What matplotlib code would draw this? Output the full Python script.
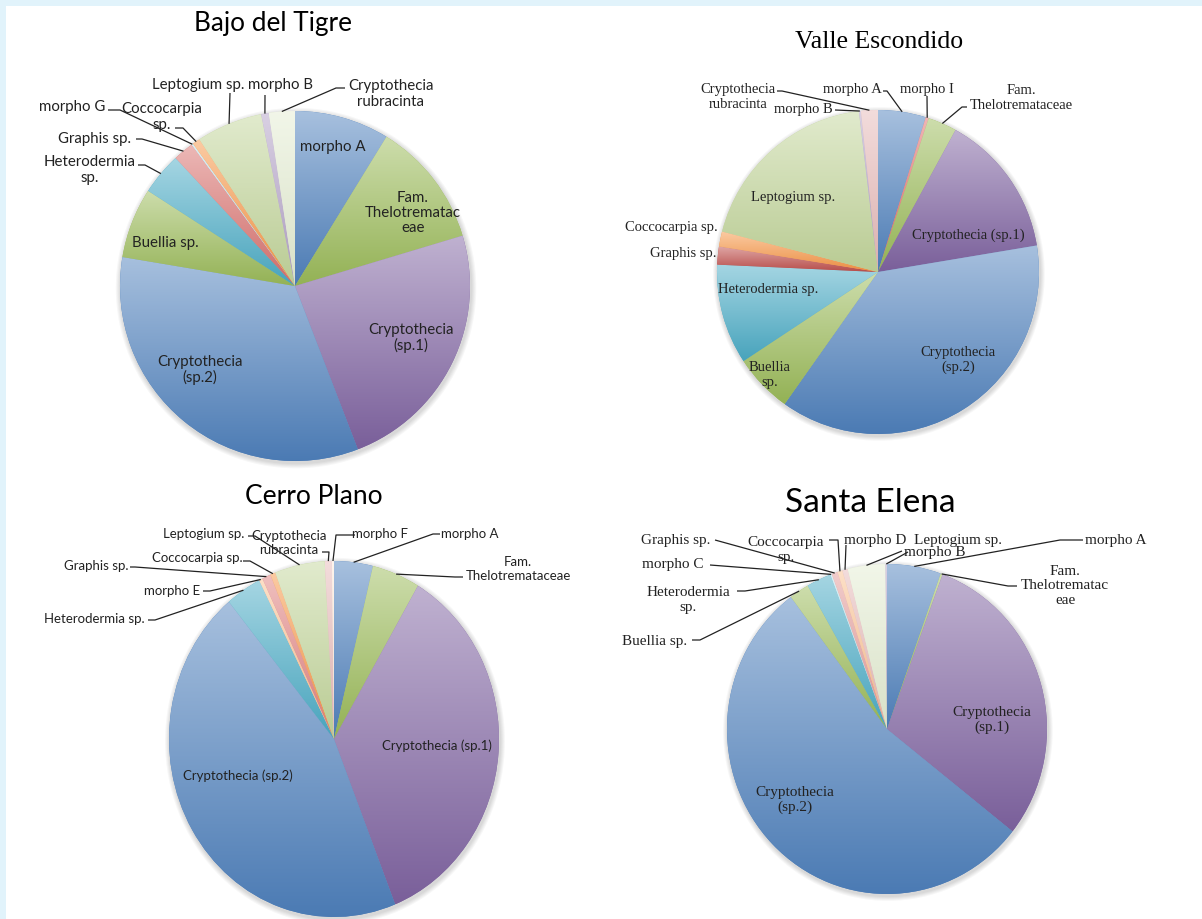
import numpy as np
import matplotlib.pyplot as plt
from matplotlib.colors import to_rgb
from matplotlib.patches import Rectangle, Ellipse

W, H = 1202, 920

# ---- data: share of each taxon (%) per site ----
bajo_names = ['morpho A', 'Fam. Thelotremataceae', 'Cryptothecia (sp.1)', 'Cryptothecia (sp.2)',
              'Buellia sp.', 'Heterodermia sp.', 'Graphis sp.', 'morpho G', 'Coccocarpia sp.',
              'Leptogium sp.', 'morpho B', 'Cryptothecia rubracinta']
bajo_vals = [8.75, 11.6, 23.8, 33.5, 6.5, 3.9, 1.9, 0.15, 0.7, 6.1, 0.7, 2.4]

valle_names = ['morpho A', 'morpho I', 'Fam. Thelotremataceae', 'Cryptothecia (sp.1)',
               'Cryptothecia (sp.2)', 'Buellia sp.', 'Heterodermia sp.', 'Graphis sp.',
               'Coccocarpia sp.', 'Leptogium sp.', 'morpho B', 'Cryptothecia rubracinta']
valle_vals = [4.8, 0.3, 2.9, 14.4, 37.5, 5.9, 10.0, 1.8, 1.5, 19.1, 0.2, 1.7]

cerro_names = ['morpho A', 'Fam. Thelotremataceae', 'Cryptothecia (sp.1)', 'Cryptothecia (sp.2)',
               'Heterodermia sp.', 'morpho E', 'Graphis sp.', 'Coccocarpia sp.', 'Leptogium sp.',
               'Cryptothecia rubracinta', 'morpho F']
cerro_vals = [3.8, 4.7, 35.5, 45.1, 3.5, 0.35, 0.85, 0.5, 4.9, 0.7, 0.2]

santa_names = ['morpho A', 'Fam. Thelotremataceae', 'Cryptothecia (sp.1)', 'Cryptothecia (sp.2)',
               'Buellia sp.', 'Heterodermia sp.', 'morpho C', 'Graphis sp.', 'Coccocarpia sp.',
               'morpho D', 'Leptogium sp.', 'morpho B']
santa_vals = [5.45, 0.2, 30.0, 54.1, 2.0, 2.5, 0.15, 0.6, 0.5, 0.55, 3.8, 0.15]

# ---- colours (Office 2007 palette) ----
BLUE, GREEN, PURPLE = '#4F81BD', '#9BBB59', '#8064A2'
AQUA, RED, ORANGE = '#4BACC6', '#C0504D', '#F79646'
LGREEN, LPURPLE, PINK = '#C3D69B', '#B3A2C7', '#E6B9B8'
CREAM, LBLUE, PEACH = '#E4EDD2', '#B7DEE8', '#FAC090'

bajo_cols = [BLUE, GREEN, PURPLE, BLUE, GREEN, AQUA, '#D9716E', LBLUE, ORANGE, LGREEN, LPURPLE, CREAM]
valle_cols = [BLUE, '#E06C6A', GREEN, PURPLE, BLUE, GREEN, AQUA, RED, ORANGE, LGREEN, LPURPLE, PINK]
cerro_cols = [BLUE, GREEN, PURPLE, BLUE, AQUA, PEACH, '#E0807E', ORANGE, LGREEN, PINK, '#FDEADA']
santa_cols = [BLUE, GREEN, PURPLE, BLUE, GREEN, AQUA, LBLUE, '#E39A98', PEACH, PINK, CREAM, LPURPLE]

SANS = ['Lato', 'DejaVu Sans']
SERIF = ['Liberation Serif', 'DejaVu Serif']
INK = '#222222'

fig = plt.figure(figsize=(W / 100, H / 100), dpi=100)
fig.patch.set_facecolor('#E1F3FB')
fig.add_artist(Rectangle((6 / W, 0), (W - 6) / W, (H - 7) / H, transform=fig.transFigure,
                         facecolor='white', edgecolor='none', zorder=-5))

# overlay in pixel units for titles, labels and leader lines
ov = fig.add_axes([0, 0, 1, 1], zorder=5)
ov.set_xlim(0, W)
ov.set_ylim(H, 0)
ov.axis('off')
ov.patch.set_alpha(0)


def shade(ax, w, color):
    # Excel-style vertical gradient inside a wedge: light at top, full colour at bottom
    th = np.radians(np.linspace(w.theta1, w.theta2, 80))
    xs = np.r_[0, np.cos(th)] * w.r
    ys = np.r_[0, np.sin(th)] * w.r
    c = np.array(to_rgb(color))
    t = np.linspace(0, 1, 200)[:, None]
    top = c + (1 - c) * 0.5
    bot = c * 0.95
    grad = (top * (1 - t) + bot * t)[:, None, :]
    im = ax.imshow(grad, extent=(xs.min() - 1e-3, xs.max() + 1e-3, ys.min(), ys.max()),
                   origin='upper', aspect='auto', interpolation='bilinear', zorder=2)
    im.set_clip_path(w)


def draw_pie(vals, cols, cx, cy, rx, ry):
    ax = fig.add_axes([(cx - rx) / W, 1 - (cy + ry) / H, 2 * rx / W, 2 * ry / H], zorder=1)
    # soft drop shadow under the pie
    for k in range(5):
        ax.add_patch(Ellipse((0.006, -0.012), 2 + 0.012 * (k + 1), 2 + 0.012 * (k + 1),
                             facecolor='black', edgecolor='none', alpha=0.03, zorder=0,
                             clip_on=False))
    wedges, _ = ax.pie(vals, colors=cols, startangle=90, counterclock=False,
                       radius=1, wedgeprops=dict(linewidth=0))
    for w, c in zip(wedges, cols):
        shade(ax, w, c)
    ax.set_aspect('auto')
    ax.set_xlim(-1, 1)
    ax.set_ylim(-1, 1)
    ax.axis('off')
    return ax, wedges


def edge_px(ax, w):
    a = np.radians((w.theta1 + w.theta2) / 2)
    p = ax.transData.transform((np.cos(a), np.sin(a)))
    return ov.transData.inverted().transform(p)


def put_labels(ax, wedges, layout, family, size):
    for i, text, x, y, via in layout:
        ov.text(x, y, text, ha='center', va='center', family=family, fontsize=size,
                color=INK, linespacing=1.12)
        if via:
            pts = np.array([edge_px(ax, wedges[i])] + list(via))
            ov.plot(pts[:, 0], pts[:, 1], color='#222222', lw=0.9, solid_capstyle='butt')


# ---- Bajo del Tigre ----
ax1, w1 = draw_pie(bajo_vals, bajo_cols, 295, 287, 175, 175)
put_labels(ax1, w1, [
    (0, 'morpho A', 333, 147, None),
    (1, 'Fam.\nThelotrematac\neae', 413, 213, None),
    (2, 'Cryptothecia\n(sp.1)', 411, 338, None),
    (3, 'Cryptothecia\n(sp.2)', 200, 370, None),
    (4, 'Buellia sp.', 165, 243, None),
    (5, 'Heterodermia\nsp.', 90, 170, [(145, 166), (138, 166)]),
    (6, 'Graphis sp.', 94, 139, [(142, 140), (136, 140)]),
    (7, 'morpho G', 72, 107, [(120, 111), (108, 111)]),
    (8, 'Coccocarpia\nsp.', 162, 117, [(183, 129), (175, 129)]),
    (9, 'Leptogium sp.', 198, 85, [(230, 94)]),
    (10, 'morpho B', 280, 85, [(265, 96)]),
    (11, 'Cryptothecia\nrubracinta', 391, 94, [(336, 89), (345, 89)]),
], SANS, 10.8)
ov.text(273, 24, 'Bajo del Tigre', ha='center', va='center', family=SANS, fontsize=18.8, color='black')

# ---- Valle Escondido ----
ax2, w2 = draw_pie(valle_vals, valle_cols, 878, 273, 161, 162)
put_labels(ax2, w2, [
    (0, 'morpho A', 852, 90, [(887, 92), (883, 92)]),
    (1, 'morpho I', 927, 90, [(927, 97)]),
    (2, 'Fam.\nThelotremataceae', 1021, 98, [(962, 108), (967, 108)]),
    (3, 'Cryptothecia (sp.1)', 968, 235, None),
    (4, 'Cryptothecia\n(sp.2)', 958, 360, None),
    (5, 'Buellia\nsp.', 770, 375, None),
    (6, 'Heterodermia sp.', 768, 290, None),
    (7, 'Graphis sp.', 683, 253, None),
    (8, 'Coccocarpia sp.', 671, 228, None),
    (9, 'Leptogium sp.', 793, 198, None),
    (10, 'morpho B', 803, 110, [(835, 111)]),
    (11, 'Cryptothecia\nrubracinta', 738, 97, [(782, 92), (777, 92)]),
], SERIF, 10.5)
ov.text(879, 42, 'Valle Escondido', ha='center', va='center', family=SERIF, fontsize=18.5, color='black')

# ---- Cerro Plano ----
ax3, w3 = draw_pie(cerro_vals, cerro_cols, 334, 740, 165, 178)
put_labels(ax3, w3, [
    (0, 'morpho A', 470, 534, [(433, 535), (440, 535)]),
    (1, 'Fam.\nThelotremataceae', 518, 569, [(455, 578), (463, 578)]),
    (2, 'Cryptothecia (sp.1)', 437, 746, None),
    (3, 'Cryptothecia (sp.2)', 238, 776, None),
    (4, 'Heterodermia sp.', 94, 619, [(155, 621), (148, 621)]),
    (5, 'morpho E', 172, 591, [(210, 592), (203, 592)]),
    (6, 'Graphis sp.', 96, 566, [(135, 568), (130, 568)]),
    (7, 'Coccocarpia sp.', 197, 558, [(250, 562), (243, 562)]),
    (8, 'Leptogium sp.', 204, 534, [(255, 537), (248, 537)]),
    (9, 'Cryptothecia\nrubracinta', 289, 543, [(329, 553), (322, 553)]),
    (10, 'morpho F', 380, 534, [(336, 536), (355, 536)]),
], SANS, 9.5)
ov.text(314, 497, 'Cerro Plano', ha='center', va='center', family=SANS, fontsize=19, color='black')

# ---- Santa Elena ----
ax4, w4 = draw_pie(santa_vals, santa_cols, 887, 730, 160, 165)
put_labels(ax4, w4, [
    (0, 'morpho A', 1116, 541, [(1060, 541), (1083, 541)]),
    (1, 'Fam.\nThelotrematac\neae', 1065, 586, [(1008, 587), (1017, 587)]),
    (2, 'Cryptothecia\n(sp.1)', 992, 720, None),
    (3, 'Cryptothecia\n(sp.2)', 795, 800, None),
    (4, 'Buellia sp.', 655, 642, [(700, 641), (692, 641)]),
    (5, 'Heterodermia\nsp.', 688, 600, [(745, 592), (737, 592)]),
    (6, 'morpho C', 673, 565, [(710, 566)]),
    (7, 'Graphis sp.', 676, 541, [(715, 541)]),
    (8, 'Coccocarpia\nsp.', 786, 550, [(838, 541), (829, 541)]),
    (9, 'morpho D', 875, 541, [(846, 546)]),
    (10, 'Leptogium sp.', 958, 541, [(902, 552)]),
    (11, 'morpho B', 935, 553, [(908, 553)]),
], SERIF, 11)
ov.text(870, 503, 'Santa Elena', ha='center', va='center', family=SANS, fontsize=24, color='black')

fig.savefig('out.png', dpi=100, facecolor=fig.get_facecolor())
